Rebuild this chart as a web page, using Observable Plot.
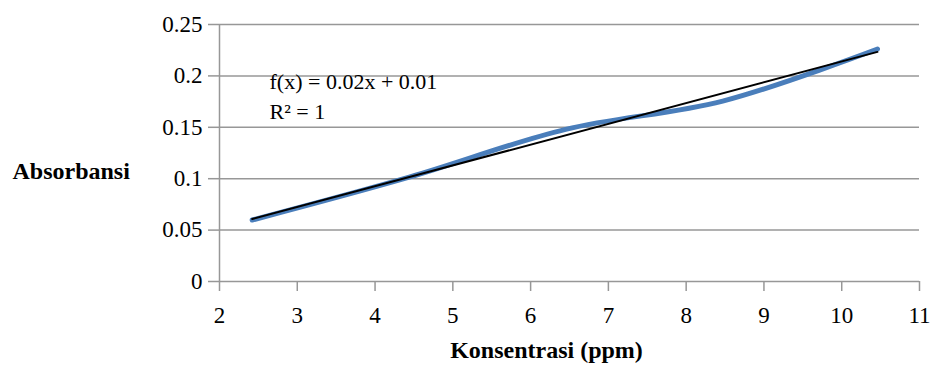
<!DOCTYPE html>
<html><head><meta charset="utf-8">
<script src="https://cdn.jsdelivr.net/npm/d3@7"></script>
<script src="https://cdn.jsdelivr.net/npm/@observablehq/plot@0.6"></script>
<style>html,body{margin:0;padding:0;background:#fff}svg{display:block}</style>
</head><body><div id="chart"></div>
<script>
const konsentrasi = [2.42, 4.44, 6.45, 8.47, 10.46];
const absorbansi = [0.0598, 0.1015, 0.148, 0.1755, 0.2262];
const xTicks = [2, 3, 4, 5, 6, 7, 8, 9, 10, 11];
const yTicks = [0, 0.05, 0.1, 0.15, 0.2, 0.25];
const yTickLabels = ["0", "0.05", "0.1", "0.15", "0.2", "0.25"];
const equationText = "f(x) = 0.02x + 0.01\nR² = 1";
const xTitle = "Konsentrasi (ppm)";
const yTitle = "Absorbansi";

const data = konsentrasi.map((x, i) => ({x, y: absorbansi[i]}));
const grid = "#979797";
const serif = "Liberation Serif, Times New Roman, serif";

const chart = Plot.plot({
  width: 931, height: 376,
  marginLeft: 219, marginRight: 12, marginTop: 24, marginBottom: 95,
  style: {fontFamily: serif, fontSize: "23px", color: "#000", background: "#fff", overflow: "visible"},
  x: {domain: [2, 11]},
  y: {domain: [0, 0.25]},
  marks: [
    Plot.ruleY(yTicks, {stroke: grid, strokeWidth: 1.5}),
    Plot.ruleX([2], {stroke: grid, strokeWidth: 1.5}),
    Plot.axisY({ticks: yTicks, tickFormat: d => yTickLabels[yTicks.indexOf(d)], tickSize: 11, tickPadding: 6,
      stroke: grid, strokeWidth: 1.5, fill: "#000", label: null, fontSize: 23, fontFamily: serif}),
    Plot.axisX({ticks: xTicks, tickFormat: d => String(d), tickSize: 10, tickPadding: 15,
      stroke: grid, strokeWidth: 1.5, fill: "#000", label: null, fontSize: 23, fontFamily: serif}),
    Plot.line(data, {x: "x", y: "y", curve: "catmull-rom", stroke: "#4A7EBB", strokeWidth: 5}),
    Plot.linearRegressionY(data, {x: "x", y: "y", ci: 0, stroke: "#000", strokeWidth: 2}),
    Plot.text([equationText], {frameAnchor: "top-left", dx: 50, dy: 43, textAnchor: "start", lineAnchor: "top",
      lineHeight: 1.36, fontSize: 22, fontFamily: serif, fill: "#000"}),
    Plot.text([yTitle], {frameAnchor: "left", dx: -207, dy: 18, textAnchor: "start", fontSize: 24, fontWeight: "bold", fontFamily: serif, fill: "#000"}),
    Plot.text([xTitle], {frameAnchor: "bottom", dx: -23, dy: 76, lineAnchor: "bottom", fontSize: 24, fontWeight: "bold", fontFamily: serif, fill: "#000"})
  ]
});
document.getElementById("chart").append(chart);
</script>
</body></html>
